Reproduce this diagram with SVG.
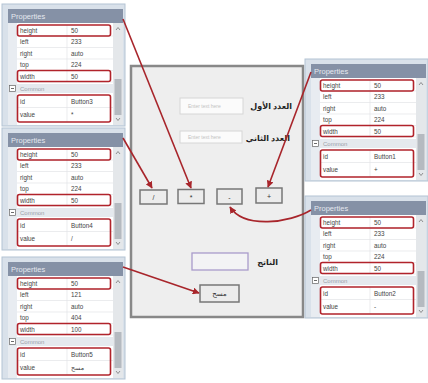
<svg xmlns="http://www.w3.org/2000/svg" width="428" height="383" viewBox="0 0 428 383">
<style>
text{font-family:"Liberation Sans","Noto Sans",Arial,sans-serif}
.frame{fill:#d9e1ea;stroke:#b3c3d3;stroke-width:1}
.hdr{fill:#8591a6}
.htxt{fill:#e4e8ef;font-size:7.5px}
.grid{fill:#ffffff}
.gut{fill:#e8ecf1}
.rl{stroke:#e2e4e6;stroke-width:0.7}
.nm{fill:#444;font-size:6.3px}
.vl{fill:#444;font-size:6.3px}
.cat{fill:#e5e9ee}
.ctxt{fill:#9aa0a8;font-size:6px}
.sb{fill:#e4e7ea}
.thumb{fill:#b5bac0}
.chev{fill:none;stroke:#777;stroke-width:0.8}
.red{fill:none;stroke:#b1232b;stroke-width:1.6}
.form{fill:#eeeeee;stroke:#888;stroke-width:2.5}
.tf{fill:#fbfbfb;stroke:#d6d6d6;stroke-width:1}
.ph{fill:#c2c2c2;font-size:5px}
.ar{font-family:"Noto Sans","DejaVu Sans",sans-serif;font-size:8px;font-weight:bold;fill:#222}
.btn{fill:#ececec;stroke:#777;stroke-width:1.5}
.bt{fill:#333;font-size:7px;text-anchor:middle}
.conn{fill:none;stroke:#a8252b;stroke-width:1.6}
</style>
<defs>
<marker id="ah" viewBox="0 0 10 10" refX="9" refY="5" markerWidth="7" markerHeight="7" markerUnits="userSpaceOnUse" orient="auto">
<path d="M0,0 L10,5 L0,10 z" fill="#a8252b"/>
</marker>
<g id="base">
<rect class="frame" x="-6" y="-5" width="123" height="122"/>
<rect class="hdr" x="0" y="0" width="115" height="14"/>
<text class="htxt" x="3" y="10">Properties</text>
<rect class="grid" x="0" y="14" width="105" height="102"/>
<rect class="gut" x="0" y="14" width="9" height="102"/>
<line class="rl" x1="9" y1="27" x2="105" y2="27"/>
<line class="rl" x1="9" y1="38.5" x2="105" y2="38.5"/>
<line class="rl" x1="9" y1="50" x2="105" y2="50"/>
<line class="rl" x1="9" y1="61.5" x2="105" y2="61.5"/>
<line class="rl" x1="9" y1="73" x2="105" y2="73"/>
<line class="rl" x1="9" y1="98.5" x2="105" y2="98.5"/>
<line class="rl" x1="59" y1="16" x2="59" y2="73"/>
<line class="rl" x1="59" y1="86" x2="59" y2="113"/>
<rect class="cat" x="0" y="75" width="105" height="9"/>
<rect x="1.5" y="76.5" width="6" height="6" fill="#fff" stroke="#666" stroke-width="0.7"/>
<line x1="3" y1="79.5" x2="6" y2="79.5" stroke="#444" stroke-width="0.8"/>
<text class="ctxt" x="12" y="82">Common</text>
<rect class="sb" x="105" y="14" width="10" height="102"/>
<path class="chev" d="M108,21 L110,18.5 L112,21"/>
<rect class="thumb" x="106.5" y="70" width="7" height="36"/>
<path class="chev" d="M108,109 L110,111.5 L112,109"/>
</g>
</defs>

<g id="form">
<rect class="form" x="131" y="66" width="172" height="251"/>
</g>

<g id="field1">
<rect class="tf" x="180" y="98" width="63" height="16"/>
<text class="ph" x="188" y="108">Enter text here</text>
<text class="ar" x="292" y="109" text-anchor="end">العدد الأول</text>
</g>
<g id="field2">
<rect class="tf" x="180" y="131" width="62" height="12"/>
<text class="ph" x="188" y="139">Enter text here</text>
<text class="ar" x="290" y="141" text-anchor="end">العدد الثاني</text>
</g>

<g id="button4"><rect class="btn" x="140" y="190" width="27" height="14"/><text class="bt" x="153.5" y="200">/</text></g>
<g id="button3"><rect class="btn" x="178" y="189.5" width="26" height="14"/><text class="bt" x="191" y="200">*</text></g>
<g id="button2"><rect class="btn" x="217" y="189" width="25" height="15"/><text class="bt" x="229.5" y="200">-</text></g>
<g id="button1"><rect class="btn" x="256" y="188" width="26" height="15"/><text class="bt" x="269" y="199">+</text></g>

<g id="result">
<rect x="192" y="253" width="56" height="17" fill="#f3f3f5" stroke="#a99bcb" stroke-width="1.3"/>
<text class="ar" x="278" y="265" text-anchor="end">الناتج</text>
</g>
<g id="button5"><rect class="btn" x="200" y="285" width="39" height="17"/><text class="bt" x="219.5" y="296" style="font-family:'Noto Sans','DejaVu Sans',sans-serif">مسح</text></g>

<g id="props3" transform="translate(8,9)">
<use href="#base"/>
<text class="nm" x="12" y="24">height</text><text class="vl" x="63" y="24">50</text>
<text class="nm" x="12" y="35">left</text><text class="vl" x="63" y="35">233</text>
<text class="nm" x="12" y="46.5">right</text><text class="vl" x="63" y="46.5">auto</text>
<text class="nm" x="12" y="58">top</text><text class="vl" x="63" y="58">224</text>
<text class="nm" x="12" y="69.5">width</text><text class="vl" x="63" y="69.5">50</text>
<text class="nm" x="12" y="95">id</text><text class="vl" x="63" y="95">Button3</text>
<text class="nm" x="12" y="107.5">value</text><text class="vl" x="63" y="107.5">*</text>
<rect class="red" x="9.5" y="16" width="93" height="11" rx="2"/>
<rect class="red" x="9.5" y="61.5" width="93" height="11" rx="2"/>
<rect class="red" x="9.5" y="86" width="93" height="27" rx="2"/>
</g>

<g id="props4" transform="translate(8,133)">
<use href="#base"/>
<text class="nm" x="12" y="24">height</text><text class="vl" x="63" y="24">50</text>
<text class="nm" x="12" y="35">left</text><text class="vl" x="63" y="35">233</text>
<text class="nm" x="12" y="46.5">right</text><text class="vl" x="63" y="46.5">auto</text>
<text class="nm" x="12" y="58">top</text><text class="vl" x="63" y="58">224</text>
<text class="nm" x="12" y="69.5">width</text><text class="vl" x="63" y="69.5">50</text>
<text class="nm" x="12" y="95">id</text><text class="vl" x="63" y="95">Button4</text>
<text class="nm" x="12" y="107.5">value</text><text class="vl" x="63" y="107.5">/</text>
<rect class="red" x="9.5" y="16" width="93" height="11" rx="2"/>
<rect class="red" x="9.5" y="61.5" width="93" height="11" rx="2"/>
<rect class="red" x="9.5" y="86" width="93" height="27" rx="2"/>
</g>

<g id="props5" transform="translate(8,262)">
<use href="#base"/>
<text class="nm" x="12" y="24">height</text><text class="vl" x="63" y="24">50</text>
<text class="nm" x="12" y="35">left</text><text class="vl" x="63" y="35">121</text>
<text class="nm" x="12" y="46.5">right</text><text class="vl" x="63" y="46.5">auto</text>
<text class="nm" x="12" y="58">top</text><text class="vl" x="63" y="58">404</text>
<text class="nm" x="12" y="69.5">width</text><text class="vl" x="63" y="69.5">100</text>
<text class="nm" x="12" y="95">id</text><text class="vl" x="63" y="95">Button5</text>
<text class="nm" x="12" y="107.5">value</text><text class="vl" x="63" y="107.5" style="font-family:'Noto Sans','DejaVu Sans',sans-serif">مسح</text>
<rect class="red" x="9.5" y="16" width="93" height="11" rx="2"/>
<rect class="red" x="9.5" y="61.5" width="93" height="11" rx="2"/>
<rect class="red" x="9.5" y="86" width="93" height="27" rx="2"/>
</g>

<g id="props1" transform="translate(311,64)">
<use href="#base"/>
<text class="nm" x="12" y="24">height</text><text class="vl" x="63" y="24">50</text>
<text class="nm" x="12" y="35">left</text><text class="vl" x="63" y="35">233</text>
<text class="nm" x="12" y="46.5">right</text><text class="vl" x="63" y="46.5">auto</text>
<text class="nm" x="12" y="58">top</text><text class="vl" x="63" y="58">224</text>
<text class="nm" x="12" y="69.5">width</text><text class="vl" x="63" y="69.5">50</text>
<text class="nm" x="12" y="95">id</text><text class="vl" x="63" y="95">Button1</text>
<text class="nm" x="12" y="107.5">value</text><text class="vl" x="63" y="107.5">+</text>
<rect class="red" x="9.5" y="16" width="93" height="11" rx="2"/>
<rect class="red" x="9.5" y="61.5" width="93" height="11" rx="2"/>
<rect class="red" x="9.5" y="86" width="93" height="27" rx="2"/>
</g>

<g id="props2" transform="translate(311,201)">
<use href="#base"/>
<text class="nm" x="12" y="24">height</text><text class="vl" x="63" y="24">50</text>
<text class="nm" x="12" y="35">left</text><text class="vl" x="63" y="35">233</text>
<text class="nm" x="12" y="46.5">right</text><text class="vl" x="63" y="46.5">auto</text>
<text class="nm" x="12" y="58">top</text><text class="vl" x="63" y="58">224</text>
<text class="nm" x="12" y="69.5">width</text><text class="vl" x="63" y="69.5">50</text>
<text class="nm" x="12" y="95">id</text><text class="vl" x="63" y="95">Button2</text>
<text class="nm" x="12" y="107.5">value</text><text class="vl" x="63" y="107.5">-</text>
<rect class="red" x="9.5" y="16" width="93" height="11" rx="2"/>
<rect class="red" x="9.5" y="61.5" width="93" height="11" rx="2"/>
<rect class="red" x="9.5" y="86" width="93" height="27" rx="2"/>
</g>

<g id="connectors">
<path class="conn" d="M123,19 L191,188" marker-end="url(#ah)"/>
<path class="conn" d="M123,138 L152,188" marker-end="url(#ah)"/>
<path class="conn" d="M123,267 L199,293" marker-end="url(#ah)"/>
<path class="conn" d="M311,72 L268,187" marker-end="url(#ah)"/>
<path class="conn" d="M311,210 C290,223 244,229 230,207" marker-end="url(#ah)"/>
</g>
</svg>
